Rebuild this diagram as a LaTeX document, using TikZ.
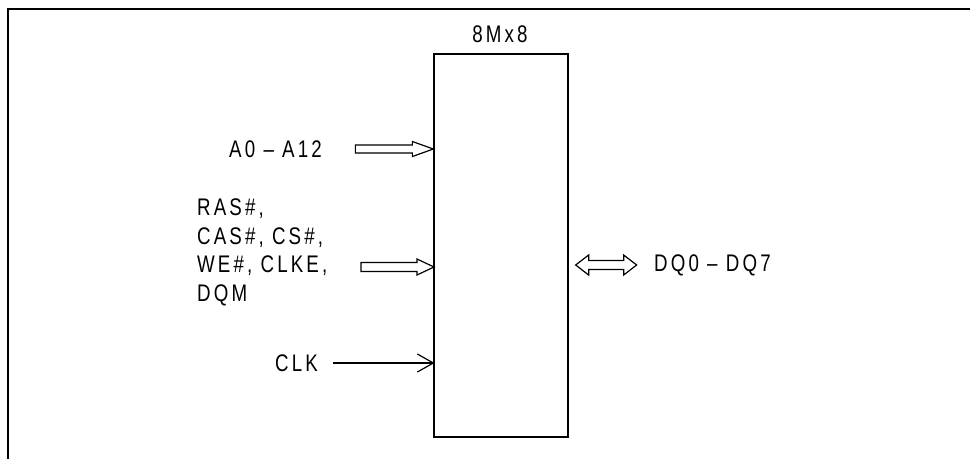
\documentclass[tikz,border=0pt]{standalone}
\usepackage{fontspec}
\setmainfont{Liberation Sans}[FakeStretch=0.78,LetterSpace=13]
\begin{document}
\begin{tikzpicture}[x=1pt,y=-1pt,
  frame/.style={line width=2pt},
  chipbox/.style={draw, line width=1.3pt, minimum width=134pt, minimum height=383pt, inner sep=0pt},
  lbl/.style={font=\fontsize{24}{28.5}\selectfont, inner sep=0pt},
  hollow/.style={draw, line width=1.2pt, line join=miter, fill=white},
  pics/harrow/.style n args={4}{code={\draw[hollow] (0,0) -- (-#1,#2) -- (-#1,#3) -- (-#4,#3) -- (-#4,-#3) -- (-#1,-#3) -- (-#1,-#2) -- cycle;}},
  pics/darrow/.style n args={4}{code={\draw[hollow] (0,0) -- (#1,#2) -- (#1,#3) -- (#4-#1,#3) -- (#4-#1,#2) -- (#4,0) -- (#4-#1,-#2) -- (#4-#1,-#3) -- (#1,-#3) -- (#1,-#2) -- cycle;}}
]
\useasboundingbox (0,0) rectangle (970,459);
\draw[frame] (8,459) -- (8,9) -- (970,9);

\node[chipbox] (chip) at (501,245.5) {};
\node[lbl] (title) at (500,34) {8Mx8};

\node[lbl, anchor=east] (alab) at (322,149) {A0 – A12};
\node[lbl, anchor=north west, align=left] (ctl) at (197,199) {RAS\#,\\CAS\#, CS\#,\\WE\#, CLKE,\\DQM};
\node[lbl, anchor=east] (clk) at (318,363) {CLK};
\node[lbl, anchor=west] (dq) at (654,265) {DQ0 – DQ7};

\coordinate (tA) at (chip.west |- alab);
\coordinate (tB) at (434,267);
\coordinate (tC) at (chip.west |- clk);
\coordinate (tD) at (chip.east |- dq);

\pic at (tA) {harrow={21}{7.5}{4}{78}};
\pic at (tB) {harrow={17}{8}{4.5}{73}};
\pic at ([xshift=7pt]tD) {darrow={13}{10}{4.5}{61}};
\coordinate (cs) at ([xshift=-100pt]tC);
\draw[line width=1.2pt] (cs) -- (tC);
\draw[line width=1.2pt] ([xshift=-16pt,yshift=-9pt]tC) -- (tC) -- ([xshift=-16pt,yshift=9pt]tC);
\end{tikzpicture}
\end{document}
